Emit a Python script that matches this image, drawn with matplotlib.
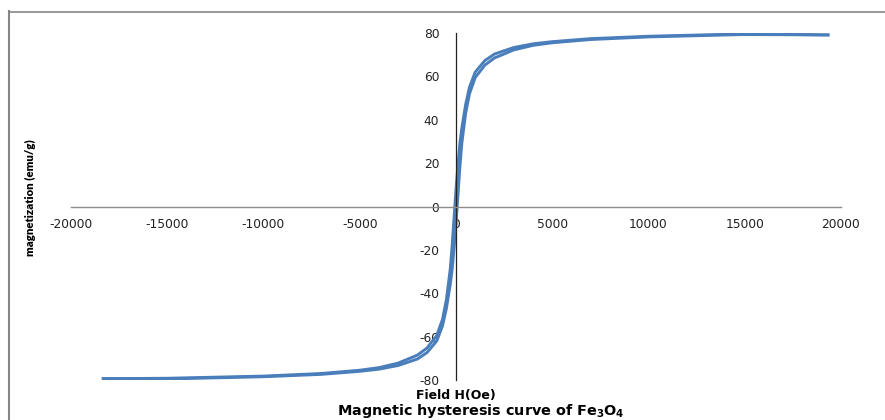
import matplotlib.pyplot as plt
from matplotlib.lines import Line2D

plt.rcParams['font.family'] = ['DejaVu Sans']

# applied field (Oe)
campo = [-18400, -15000, -10000, -7000, -5000, -4000, -3000, -2000, -1500,
         -1000, -700, -500, -300, -200, -100, 0, 100, 200, 300, 500, 700,
         1000, 1500, 2000, 3000, 4000, 5000, 7000, 10000, 15000, 19400]

# branch coming down from +H
m_desce = [-79.4, -79.2, -78.2, -77.0, -75.5, -74.3, -72.2, -68.5, -65.2,
           -59.5, -52.0, -43.0, -29.0, -18.0, -5.0, 8.0, 19.0, 29.0, 36.0,
           47.0, 55.0, 62.0, 67.3, 70.3, 73.3, 75.0, 76.0, 77.4, 78.5, 79.6, 79.1]

# branch going up from -H
m_sobe = [-79.4, -79.5, -78.5, -77.4, -76.0, -75.0, -73.3, -70.3, -67.3,
          -62.0, -55.0, -47.0, -36.0, -29.0, -19.0, -8.0, 5.0, 18.0, 29.0,
          43.0, 52.0, 59.5, 65.2, 68.5, 72.2, 74.3, 75.5, 77.0, 78.2, 79.3, 79.1]

xticks = [-20000, -15000, -10000, -5000, 0, 5000, 10000, 15000, 20000]
yticks = [-80, -60, -40, -20, 0, 20, 40, 60, 80]

cor = '#4a7ebb'

fig = plt.figure(figsize=(8.85, 4.2), dpi=100)
ax = fig.add_axes([71 / 885, 40 / 420, 770 / 885, 347 / 420])

ax.plot(campo, m_desce, color=cor, lw=2.1, solid_capstyle='butt')
ax.plot(campo, m_sobe, color=cor, lw=2.1, solid_capstyle='butt')

ax.set_xlim(-20000, 20000)
ax.set_ylim(-80, 80)

# axes crossing at the origin
ax.spines['left'].set_position(('data', 0))
ax.spines['bottom'].set_position(('data', 0))
ax.spines['right'].set_visible(False)
ax.spines['top'].set_visible(False)
ax.spines['left'].set_color('#222222')
ax.spines['left'].set_linewidth(0.9)
ax.spines['bottom'].set_color('#8c8c8c')
ax.spines['bottom'].set_linewidth(1.0)
ax.spines['bottom'].set_bounds(-20000, 20000)

ax.set_xticks(xticks)
ax.set_yticks(yticks)
ax.set_xticklabels([str(v) for v in xticks])
ax.set_yticklabels([str(v) for v in yticks])
ax.tick_params(axis='both', length=0, labelsize=8.8, colors='#222222')
ax.tick_params(axis='x', pad=8)
ax.tick_params(axis='y', pad=12)

fig.text(456 / 885, 1 - 395 / 420, 'Field H(Oe)', ha='center', va='center',
         fontsize=9, fontweight='bold')
fig.text(481 / 885, 1 - 411 / 420,
         r'Magnetic hysteresis curve of Fe$_\mathbf{3}$O$_\mathbf{4}$',
         ha='center', va='center', fontsize=10.4, fontweight='bold')
fig.text(30 / 885, 1 - 198 / 420, 'magnetization (emu/g)', rotation=90,
         ha='center', va='center', fontsize=8.2, fontweight='heavy',
         family=['Lato', 'DejaVu Sans'])

# outer frame
fig.add_artist(Line2D([8.5 / 885, 8.5 / 885], [0, 1 - 11 / 420],
                      transform=fig.transFigure, color='#868686', lw=1.5))
fig.add_artist(Line2D([8.5 / 885, 1], [1 - 11.5 / 420, 1 - 11.5 / 420],
                      transform=fig.transFigure, color='#868686', lw=1.2))

fig.savefig('out.png', dpi=100)
